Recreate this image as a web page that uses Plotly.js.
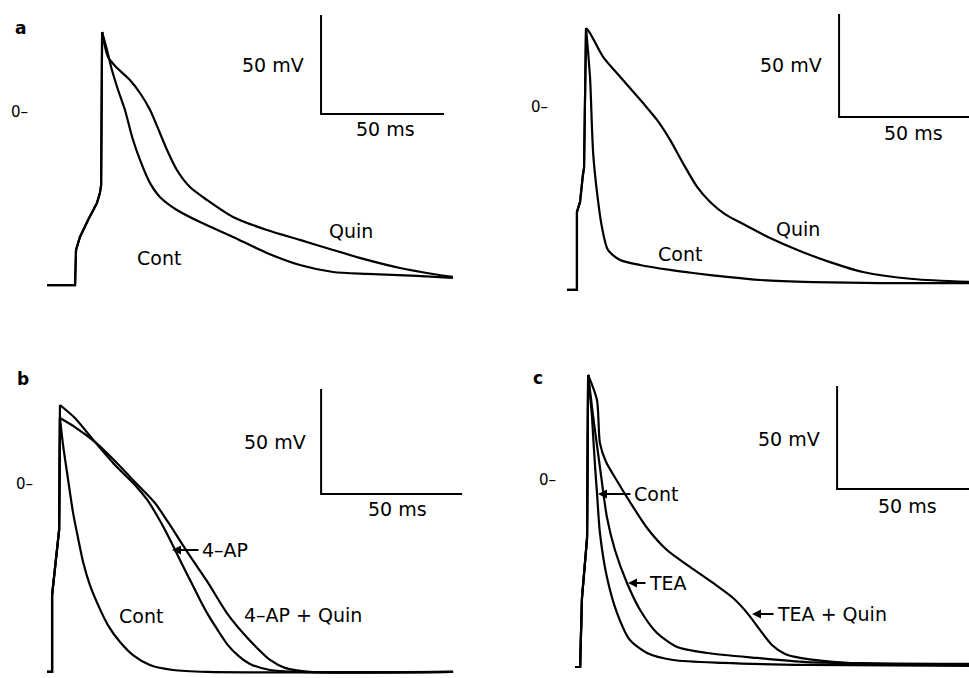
<!DOCTYPE html>
<html>
<head>
<meta charset="utf-8">
<script src="https://cdn.plot.ly/plotly-3.0.1.min.js"></script>
<style>html,body{margin:0;padding:0;background:#fff;}#chart{width:969px;height:678px;}</style>
</head>
<body>
<div id="chart"></div>
<script>
// ---- Data (time in ms, membrane potential in mV) ----
// Panel a (left): control vs quinidine
const aUpT = [0, 11.4, 11.8, 13.4, 16.7, 20.3, 21.5, 22.0, 22.4];
const aUpV = [-86.9, -86.9, -69.2, -62.6, -54.0, -45.5, -40.4, -36.4, 40.9];
const aContT = [24.4, 26.4, 28.9, 31.7, 34.6, 37.8, 41.9, 45.9, 52.8, 62.2, 75.6, 89.4, 102.8, 116.3, 130.1, 150.4, 165.0];
const aContV = [31.8, 21.7, 11.6, 1.5, -12.1, -23.7, -35.4, -42.4, -49.0, -55.1, -62.6, -70.7, -76.8, -80.3, -81.3, -82.3, -83.3];
const aQuinT = [24.8, 28.5, 33.7, 37.8, 41.9, 45.9, 48.8, 52.8, 58.1, 65.0, 75.6, 89.4, 102.8, 116.3, 130.1, 143.5, 156.9, 165.0];
const aQuinV = [28.3, 22.7, 16.7, 10.1, 1.5, -10.1, -18.7, -28.8, -37.4, -43.9, -52.5, -59.1, -64.1, -69.2, -74.2, -78.3, -81.3, -82.8];

// Panel a (right): control vs quinidine
const a2UpT = [0, 3.5, 3.5, 4.6, 5.6, 6.0, 6.7];
const a2UpV = [-88.3, -88.3, -50.5, -45.6, -32.5, -29.1, 38.8];
const a2ContT = [8.1, 9.2, 10.6, 12.3, 14.4, 18.7, 25.7, 36.3, 44.4, 56.3, 68.0, 86.6, 110.2, 143.7];
const a2ContV = [15.0, -21.8, -41.3, -57.8, -68.9, -73.8, -76.2, -78.6, -80.1, -82.0, -83.5, -84.5, -85.0, -85.0];
const a2QuinT = [8.1, 12.7, 19.7, 26.8, 31.7, 36.3, 40.8, 45.8, 50.4, 55.6, 62.7, 71.5, 82.0, 92.6, 104.2, 121.8, 143.7];
const a2QuinV = [36.4, 24.8, 13.6, 2.4, -5.8, -15.5, -26.7, -38.3, -45.6, -51.5, -56.8, -63.1, -69.4, -74.8, -79.6, -83.0, -84.5];

// Panel b: control, 4-AP, 4-AP + quinidine
const bUpT = [0, 1.8, 1.8, 2.8, 3.5, 4.3];
const bUpV = [-89.0, -89.0, -52.4, -39.5, -30.0, -21.4];
const bContT = [4.6, 5.7, 7.4, 9.2, 11.0, 12.8, 15.2, 18.1, 21.6, 25.9, 30.5, 36.5, 44.7, 56.7, 144.0];
const bContV = [31.9, 19.0, 3.3, -12.9, -25.2, -36.7, -47.6, -57.1, -66.7, -74.8, -81.0, -85.7, -88.1, -89.0, -89.0];
const b4apT = [4.6, 9.9, 17.0, 24.1, 31.2, 35.5, 39.0, 42.0, 45.0, 48.0, 51.0, 54.0, 57.0, 60.5, 64.0, 68.0, 72.0, 79.1, 89.7, 144.0];
const b4apV = [38.1, 31.9, 20.5, 9.5, 0.0, -7.0, -14.5, -21.8, -29.8, -38.0, -46.0, -54.0, -61.5, -69.0, -76.0, -81.5, -85.2, -88.1, -89.0, -89.0];
const bQuinT = [4.6, 9.9, 17.0, 24.1, 31.2, 38.3, 42.9, 49.3, 56.7, 63.8, 69.5, 74.5, 79.1, 84.4, 93.3, 144.0];
const bQuinV = [31.9, 27.6, 20.5, 11.4, 1.4, -8.6, -17.6, -31.0, -45.7, -61.0, -70.5, -77.6, -83.3, -87.1, -89.0, -89.0];

// Panel c: control, TEA, TEA + quinidine
const cUpT = [0, 1.9, 2.6, 3.7, 4.5, 4.9];
const cUpV = [-90.3, -90.3, -56.8, -40.8, -27.7, 51.5];
const cContT = [6.3, 6.7, 7.5, 8.2, 9.3, 11.9, 15.7, 20.5, 26.9, 36.6, 55.2, 86.6, 149.3];
const cContV = [32.0, 23.3, 6.8, -5.8, -25.2, -46.6, -64.1, -77.2, -83.5, -86.9, -88.3, -89.3, -89.8];
const cTeaT = [6.7, 9.3, 11.9, 14.9, 19.4, 24.3, 30.6, 38.1, 49.3, 67.9, 86.6, 149.3];
const cTeaV = [32.0, 6.8, -17.5, -33.5, -49.5, -62.6, -73.8, -80.6, -83.5, -85.9, -87.9, -88.8];
const cQuinT = [8.2, 9.3, 11.6, 15.7, 20.5, 26.9, 34.3, 42.9, 51.5, 59.0, 64.6, 69.0, 73.5, 78.4, 84.0, 101.5, 149.3];
const cQuinV = [39.3, 18.4, 9.2, 0.0, -10.2, -22.8, -33.5, -41.7, -49.5, -56.8, -64.6, -72.3, -79.6, -84.0, -85.9, -88.3, -89.3];

// Calibration bars: 50 mV / 50 ms, corner positions (ms, mV)
const barMV = 50, barMS = 50;
const barCorner = { a: [111.4, -0.5], a2: [95.8, -4.4], b: [97.2, -4.3], c: [97.8, -3.9] };

// ---- Layout helpers ----
const W = 969, H = 678;
const FONT = 'DejaVu Sans';
const INK = '#000000';
const LW = 2.2;
// per-panel calibration: pixel of t=0, pixel of 0 mV, px per ms, px per mV, panel pixel box
const cal = {
  a:  { x0: 47,  y0: 113, sx: 2.46, sy: 1.98, box: [0, 484, 0, 335] },
  a2: { x0: 567, y0: 108, sx: 2.84, sy: 2.06, box: [484, 969, 0, 335] },
  b:  { x0: 47,  y0: 485, sx: 2.82, sy: 2.10, box: [0, 484, 335, 678] },
  c:  { x0: 575, y0: 481, sx: 2.68, sy: 2.06, box: [484, 969, 335, 678] }
};
function axes(k) {
  const c = cal[k], [L, R, T, B] = c.box;
  return {
    x: { domain: [L / W, R / W], range: [(L - c.x0) / c.sx, (R - c.x0) / c.sx], visible: false, fixedrange: true },
    y: { domain: [1 - B / H, 1 - T / H], range: [(c.y0 - B) / c.sy, (c.y0 - T) / c.sy], visible: false, fixedrange: true }
  };
}
const ax = { a: axes('a'), a2: axes('a2'), b: axes('b'), c: axes('c') };
const ref = { a: ['x', 'y'], a2: ['x2', 'y2'], b: ['x3', 'y3'], c: ['x4', 'y4'] };

function line(k, t, v, shape, w) {
  return { type: 'scatter', mode: 'lines', x: t, y: v, xaxis: ref[k][0], yaxis: ref[k][1],
    line: { color: INK, width: w || LW, shape: shape, smoothing: 0.7 }, hoverinfo: 'skip' };
}
// An action potential: upstroke drawn straight up to the peak, repolarisation smoothed
function ap(k, upT, upV, dT, dV) {
  const t = upT.concat(dT), v = upV.concat(dV);
  let ip = 0;
  v.forEach((val, i) => { if (val > v[ip]) ip = i; });
  return [line(k, t.slice(0, ip + 1), v.slice(0, ip + 1), 'linear'),
          line(k, t.slice(ip), v.slice(ip), 'spline')];
}
function bar(k) {
  const [t0, v0] = barCorner[k];
  return line(k, [t0, t0, t0 + barMS], [v0 + barMV, v0, v0], 'linear', 2);
}

const data = [].concat(
  ap('a', aUpT, aUpV, aContT, aContV),
  ap('a', aUpT, aUpV, aQuinT, aQuinV),
  [bar('a')],
  ap('a2', a2UpT, a2UpV, a2ContT, a2ContV),
  ap('a2', a2UpT, a2UpV, a2QuinT, a2QuinV),
  [bar('a2')],
  ap('b', bUpT, bUpV, bContT, bContV),
  ap('b', bUpT, bUpV, b4apT, b4apV),
  ap('b', bUpT, bUpV, bQuinT, bQuinV),
  [bar('b')],
  ap('c', cUpT, cUpV, cContT, cContV),
  ap('c', cUpT, cUpV, cTeaT, cTeaV),
  ap('c', cUpT, cUpV, cQuinT, cQuinV),
  [bar('c')]
);

function px(x) { return x / W; }
function py(y) { return 1 - y / H; }
function txt(text, x, y, xanchor, size, bold) {
  return { text: bold ? '<b>' + text + '</b>' : text, x: px(x), y: py(y), xref: 'paper', yref: 'paper',
    xanchor: xanchor, yanchor: 'middle', showarrow: false,
    font: { family: FONT, size: size, color: INK } };
}
function arrowTxt(text, tipX, tipY, textCx) {
  return { text: text, x: px(tipX), y: py(tipY), xref: 'paper', yref: 'paper',
    showarrow: true, ax: textCx - tipX, ay: 0, arrowhead: 2, arrowsize: 1, arrowwidth: 1.8,
    arrowcolor: INK, standoff: 0, startstandoff: 2,
    font: { family: FONT, size: 19, color: INK } };
}

const annotations = [
  // panel a
  txt('a', 20, 28, 'center', 17, true),
  txt('0\u2013', 9, 112, 'left', 15),
  txt('50 mV', 306, 65, 'right', 19),
  txt('50 ms', 385, 129, 'center', 19),
  txt('Quin', 351, 231, 'center', 19),
  txt('Cont', 159, 258, 'center', 19),
  // panel a right
  txt('0\u2013', 529, 107, 'left', 15),
  txt('50 mV', 824, 65, 'right', 19),
  txt('50 ms', 913, 133, 'center', 19),
  txt('Quin', 798, 229, 'center', 19),
  txt('Cont', 680, 254, 'center', 19),
  // panel b
  txt('b', 23, 379, 'center', 17, true),
  txt('0\u2013', 14, 484, 'left', 15),
  txt('50 mV', 308, 442, 'right', 19),
  txt('50 ms', 397, 509, 'center', 19),
  arrowTxt('4\u2013AP', 172, 550, 225),
  txt('Cont', 141, 616, 'center', 19),
  txt('4\u2013AP + Quin', 242, 615, 'left', 19),
  // panel c
  txt('c', 538, 378, 'center', 17, true),
  txt('0\u2013', 537, 480, 'left', 15),
  txt('50 mV', 822, 439, 'right', 19),
  txt('50 ms', 907, 506, 'center', 19),
  arrowTxt('Cont', 598, 494, 656),
  arrowTxt('TEA', 628, 583, 668),
  arrowTxt('TEA + Quin', 752, 614, 832)
];

const layout = {
  width: W, height: H,
  margin: { l: 0, r: 0, t: 0, b: 0 },
  paper_bgcolor: '#ffffff', plot_bgcolor: 'rgba(0,0,0,0)',
  showlegend: false,
  xaxis: ax.a.x, yaxis: ax.a.y,
  xaxis2: ax.a2.x, yaxis2: ax.a2.y,
  xaxis3: ax.b.x, yaxis3: ax.b.y,
  xaxis4: ax.c.x, yaxis4: ax.c.y,
  annotations: annotations,
  font: { family: FONT, color: INK }
};

Plotly.newPlot('chart', data, layout, { displayModeBar: false, staticPlot: true });
</script>
</body>
</html>
